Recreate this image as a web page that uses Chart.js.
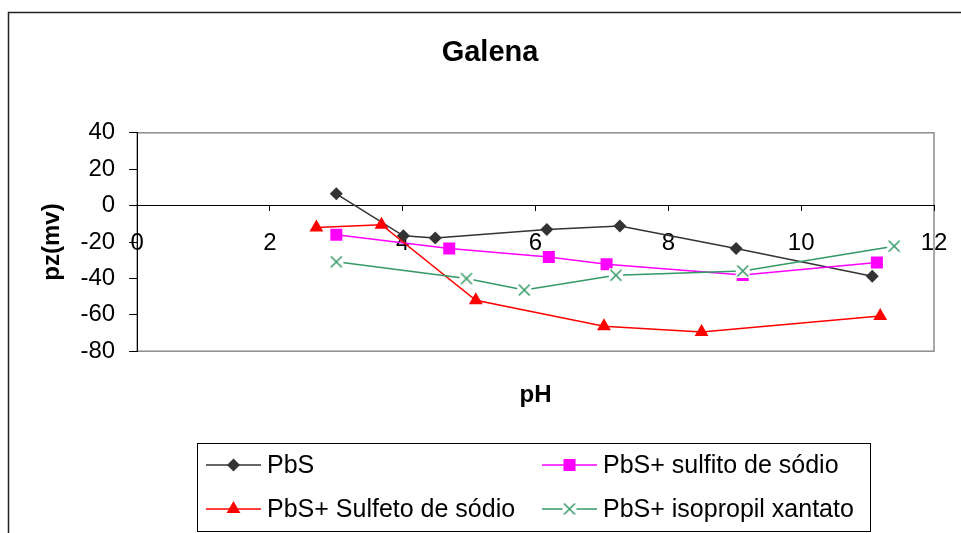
<!DOCTYPE html>
<html><head><meta charset="utf-8">
<script src="https://cdn.jsdelivr.net/npm/chart.js@4.4.1/dist/chart.umd.min.js"></script>
<style>html,body{margin:0;padding:0;background:#fff;} canvas{display:block;}</style>
</head><body>
<canvas id="c" width="961" height="533" style="width:961px;height:533px"></canvas>
<script>
// ---- data ----
const chartTitle = 'Galena';
const xTitle = 'pH';
const yTitle = 'pz(mv)';
const seriesNames = ['PbS', 'PbS+ sulfito de sódio', 'PbS+ Sulfeto de sódio', 'PbS+ isopropil xantato'];
const xTicks = [0, 2, 4, 6, 8, 10, 12];
const yTicks = [-80, -60, -40, -20, 0, 20, 40];

const pH_PbS = [3.0, 4.01, 4.49, 6.17, 7.27, 9.02, 11.07];
const pz_PbS = [6.5, -16.6, -17.8, -13.1, -11.2, -23.6, -38.8];

const pH_Sulfito = [3.0, 4.70, 6.20, 7.07, 9.12, 11.14];
const pz_Sulfito = [-16.0, -23.6, -28.2, -32.2, -38.1, -31.3];

const pH_Sulfeto = [2.70, 3.68, 5.10, 7.03, 8.50, 11.19];
const pz_Sulfeto = [-12.0, -10.5, -52.0, -66.3, -69.4, -60.7];

const pH_Xantato = [3.0, 4.96, 5.83, 7.21, 9.12, 11.40];
const pz_Xantato = [-30.9, -40.1, -46.4, -38.3, -35.9, -22.3];

// ---- styles ----
const FONT = "'Liberation Sans', Arial, Helvetica, sans-serif";
Chart.defaults.font.family = FONT;
Chart.defaults.color = '#000';

function toPts(xs, ys) { return xs.map((x, i) => ({x: x, y: ys[i]})); }

function makeXMarker(color) {
  const c = document.createElement('canvas');
  c.width = 16; c.height = 16;
  const g = c.getContext('2d');
  g.fillStyle = '#fff';
  g.fillRect(1, 1, 14, 14);
  g.strokeStyle = color;
  g.lineWidth = 1.5;
  g.beginPath();
  g.moveTo(2.5, 2.5); g.lineTo(13.5, 13.5);
  g.moveTo(13.5, 2.5); g.lineTo(2.5, 13.5);
  g.stroke();
  return c;
}
const xMarker = makeXMarker('#339966');

const common = {xAxisID: 'x', yAxisID: 'y', borderWidth: 1.5, pointBorderWidth: 0};
const datasets = [
  Object.assign({label: seriesNames[0], data: toPts(pH_PbS, pz_PbS), borderColor: '#333333', backgroundColor: '#333333',
   pointStyle: 'rectRot', pointRadius: 6.5, order: 4}, common),
  Object.assign({label: seriesNames[1], data: toPts(pH_Sulfito, pz_Sulfito), borderColor: '#FF00FF', backgroundColor: '#FF00FF',
   pointStyle: 'rect', pointRadius: 8.5, order: 3}, common),
  Object.assign({label: seriesNames[2], data: toPts(pH_Sulfeto, pz_Sulfeto), borderColor: '#FF0000', backgroundColor: '#FF0000',
   pointStyle: 'triangle', pointRadius: 8, order: 2}, common),
  Object.assign({label: seriesNames[3], data: toPts(pH_Xantato, pz_Xantato), borderColor: '#339966', backgroundColor: '#339966',
   pointStyle: xMarker, pointRadius: 8, order: 1}, common)
];

const framePlugin = {
  id: 'framePlugin',
  beforeDraw(chart) {
    const ctx = chart.ctx, a = chart.chartArea;
    ctx.save();
    ctx.fillStyle = '#fff';
    ctx.fillRect(0, 0, chart.width, chart.height);
    // outer chart frame (left and top visible)
    ctx.strokeStyle = '#222';
    ctx.lineWidth = 1.5;
    ctx.beginPath();
    ctx.moveTo(8.5, chart.height + 5);
    ctx.lineTo(8.5, 12.5);
    ctx.lineTo(chart.width + 5, 12.5);
    ctx.stroke();
    // plot area border
    ctx.strokeStyle = '#8c8c8c';
    ctx.lineWidth = 1.5;
    ctx.strokeRect(a.left, a.top, a.right - a.left, a.bottom - a.top);
    ctx.restore();
  }
};

const legendPlugin = {
  id: 'boxLegend',
  afterDraw(chart) {
    const ctx = chart.ctx;
    const box = {l: 197.5, t: 443.5, r: 870.5, b: 531.5};
    ctx.save();
    ctx.strokeStyle = '#000';
    ctx.lineWidth = 1;
    ctx.strokeRect(box.l, box.t, box.r - box.l, box.b - box.t);
    const rows = [465, 509];
    const cols = [{l0: 206, l1: 261, tx: 267}, {l0: 542, l1: 597, tx: 603}];
    // legend grid order: row1: PbS, sulfito ; row2: Sulfeto, xantato
    const slots = [[0, 0], [0, 1], [1, 0], [1, 1]];
    chart.data.datasets.forEach((ds, i) => {
      const [r, c] = slots[i];
      const y = rows[r], col = cols[c];
      ctx.strokeStyle = ds.borderColor;
      ctx.lineWidth = ds.borderWidth;
      ctx.beginPath();
      ctx.moveTo(col.l0, y); ctx.lineTo(col.l1, y);
      ctx.stroke();
      ctx.fillStyle = ds.backgroundColor;
      ctx.strokeStyle = ds.borderColor;
      Chart.helpers.drawPoint(ctx, {pointStyle: ds.pointStyle, radius: ds.pointRadius, rotation: 0, borderWidth: 0},
        (col.l0 + col.l1) / 2, y);
      ctx.fillStyle = '#000';
      ctx.font = '25px ' + FONT;
      ctx.textBaseline = 'middle';
      ctx.textAlign = 'left';
      ctx.fillText(ds.label, col.tx, y + 1);
    });
    ctx.restore();
  }
};

new Chart(document.getElementById('c'), {
  type: 'line',
  data: {datasets: datasets},
  plugins: [framePlugin, legendPlugin],
  options: {
    responsive: false,
    animation: false,
    events: [],
    devicePixelRatio: 1,
    layout: {padding: {left: 19, right: 0, top: 0, bottom: 123}},
    plugins: {
      legend: {display: false},
      tooltip: {enabled: false},
      title: {display: true, text: chartTitle, color: '#000',
              font: {size: 29, weight: 'bold', family: FONT},
              padding: {top: 36, bottom: 62}}
    },
    scales: {
      x: {
        type: 'linear',
        position: {y: 0},
        min: xTicks[0], max: xTicks[xTicks.length - 1],
        ticks: {stepSize: xTicks[1] - xTicks[0], color: '#000', font: {size: 24, family: FONT}, padding: 18, maxRotation: 0},
        grid: {drawOnChartArea: false, tickLength: 5, color: '#000', lineWidth: 1},
        border: {display: true, color: '#000', width: 1},
        afterFit(scale) { scale.paddingLeft = 0; scale.paddingRight = 0; }
      },
      y: {
        type: 'linear',
        position: 'left',
        min: yTicks[0], max: yTicks[yTicks.length - 1],
        ticks: {stepSize: yTicks[1] - yTicks[0], color: '#000', font: {size: 24, family: FONT}, padding: 14},
        grid: {drawOnChartArea: false, tickLength: 8, color: '#000', lineWidth: 1},
        border: {display: true, color: '#000', width: 1},
        title: {display: true, text: yTitle, color: '#000', font: {size: 24, weight: 'bold', family: FONT},
                padding: {top: 18.6, bottom: 0}}
      },
      x2: {
        type: 'linear',
        position: 'bottom',
        display: true,
        ticks: {display: false},
        grid: {display: false, drawTicks: false},
        border: {display: false},
        title: {display: true, text: xTitle, color: '#000', font: {size: 24, weight: 'bold', family: FONT},
                padding: {top: 30, bottom: 0}}
      },
      y2: {
        type: 'linear',
        position: 'right',
        display: true,
        ticks: {display: false},
        grid: {display: false, drawTicks: false},
        border: {display: false},
        afterFit(scale) { scale.width = 27; }
      }
    }
  }
});
</script>
</body></html>
